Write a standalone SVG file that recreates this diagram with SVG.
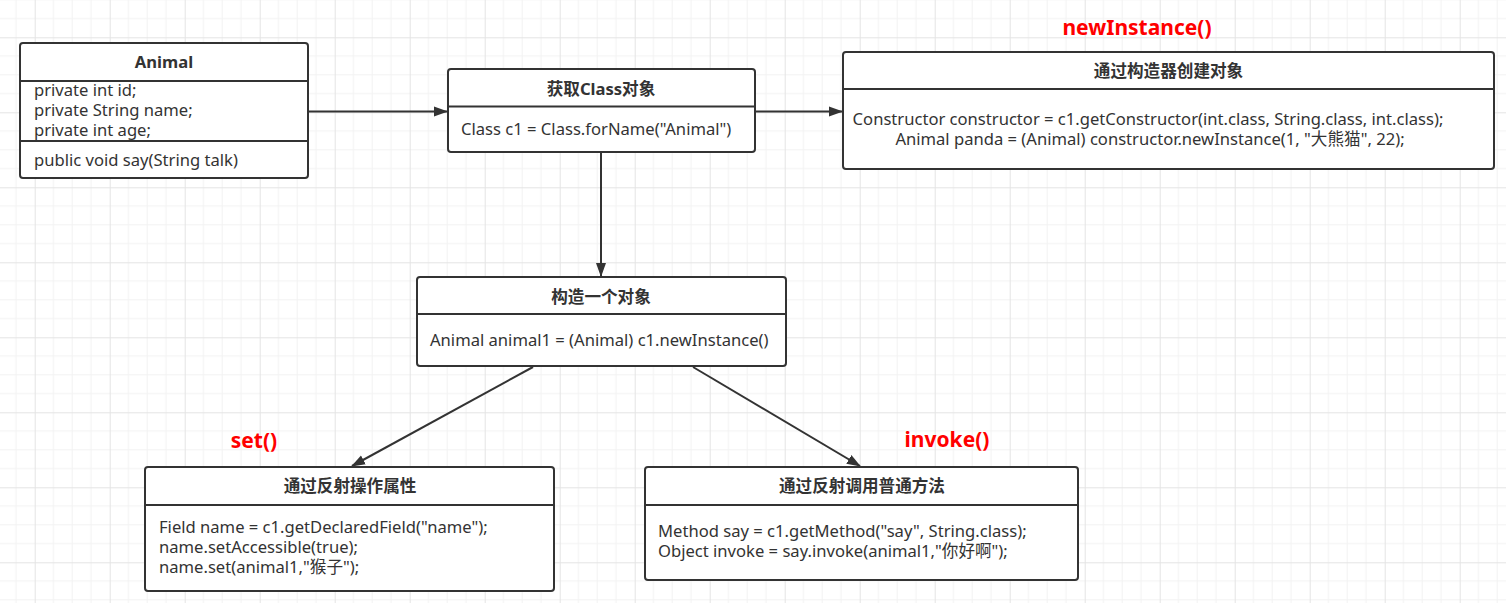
<svg xmlns="http://www.w3.org/2000/svg" width="1506" height="603" viewBox="0 0 1506 603">
<style>
.box{fill:#fff;stroke:#333;stroke-width:2}
.sep{stroke:#333;stroke-width:2}
.hd{font-family:"Noto Sans","Noto Sans CJK SC",sans-serif;font-size:16.6px;font-weight:bold;fill:#333;text-anchor:middle}
.tx{font-family:"Noto Sans","Noto Sans CJK SC",sans-serif;font-size:16.6px;fill:#333}
.red{font-family:"Noto Sans","Noto Sans CJK SC",sans-serif;font-size:21px;font-weight:bold;fill:#ff0000;text-anchor:middle}
.edge{stroke:#333;stroke-width:2;fill:none;marker-end:url(#ah)}
</style>
<defs>
<pattern id="grid" patternUnits="userSpaceOnUse" x="34.7" y="37.3" width="75" height="75">
<path d="M18.75 0V75M37.5 0V75M56.25 0V75M0 18.75H75M0 37.5H75M0 56.25H75" stroke="#f2f2f2" stroke-width="1" fill="none"/>
<path d="M0.5 0V75M0 0.5H75" stroke="#e4e4e4" stroke-width="1" fill="none"/>
</pattern>
<marker id="ah" markerWidth="14" markerHeight="12" refX="13" refY="6" orient="auto" markerUnits="userSpaceOnUse">
<path d="M0 1L14 6L0 11Z" fill="#333"/>
</marker>
</defs>
<rect width="1506" height="603" fill="#fff"/>
<rect width="1506" height="603" fill="url(#grid)"/>

<g id="connectors">
<line class="edge" x1="309" y1="111.5" x2="447" y2="111.5"/>
<line class="edge" x1="756" y1="111.5" x2="842" y2="111.5"/>
<line class="edge" x1="601" y1="153" x2="601" y2="276"/>
<line class="edge" x1="533" y1="367" x2="352" y2="466"/>
<line class="edge" x1="693" y1="367" x2="860" y2="466"/>
</g>

<g id="animal">
<rect class="box" x="20" y="43" width="288" height="135" rx="3"/>
<line class="sep" x1="20" y1="81" x2="308" y2="81"/>
<line class="sep" x1="20" y1="141" x2="308" y2="141"/>
<text class="hd" x="164" y="68">Animal</text>
<text class="tx" x="34" y="96">private int id;</text>
<text class="tx" x="34" y="116">private String name;</text>
<text class="tx" x="34" y="136">private int age;</text>
<text class="tx" x="34" y="166">public void say(String talk)</text>
</g>

<g id="getClass">
<rect class="box" x="448" y="69" width="307" height="83" rx="3"/>
<line class="sep" x1="448" y1="106.5" x2="755" y2="106.5"/>
<text class="hd" x="601" y="95">获取Class对象</text>
<text class="tx" x="461" y="135">Class c1 = Class.forName("Animal")</text>
</g>

<g id="constructor">
<text class="red" x="1137" y="35">newInstance()</text>
<rect class="box" x="843" y="52" width="651" height="117" rx="3"/>
<line class="sep" x1="843" y1="89" x2="1494" y2="89"/>
<text class="hd" x="1168.5" y="77">通过构造器创建对象</text>
<text class="tx" x="1148" y="125" text-anchor="middle">Constructor constructor = c1.getConstructor(int.class, String.class, int.class);</text>
<text class="tx" x="1150" y="145" text-anchor="middle">Animal panda = (Animal) constructor.newInstance(1, "大熊猫", 22);</text>
</g>

<g id="construct">
<rect class="box" x="417" y="277" width="369" height="89" rx="3"/>
<line class="sep" x1="417" y1="314" x2="786" y2="314"/>
<text class="hd" x="601" y="303">构造一个对象</text>
<text class="tx" x="430" y="346">Animal animal1 = (Animal) c1.newInstance()</text>
</g>

<g id="field">
<text class="red" x="254" y="448">set()</text>
<rect class="box" x="145" y="467" width="409" height="124" rx="3"/>
<line class="sep" x1="145" y1="505" x2="554" y2="505"/>
<text class="hd" x="350" y="492">通过反射操作属性</text>
<text class="tx" x="159" y="533">Field name = c1.getDeclaredField("name");</text>
<text class="tx" x="159" y="553">name.setAccessible(true);</text>
<text class="tx" x="159" y="573">name.set(animal1,"猴子");</text>
</g>

<g id="method">
<text class="red" x="947" y="447">invoke()</text>
<rect class="box" x="645" y="467" width="433" height="113" rx="3"/>
<line class="sep" x1="645" y1="505" x2="1078" y2="505"/>
<text class="hd" x="862" y="492">通过反射调用普通方法</text>
<text class="tx" x="658" y="537">Method say = c1.getMethod("say", String.class);</text>
<text class="tx" x="658" y="557">Object invoke = say.invoke(animal1,"你好啊");</text>
</g>
</svg>
